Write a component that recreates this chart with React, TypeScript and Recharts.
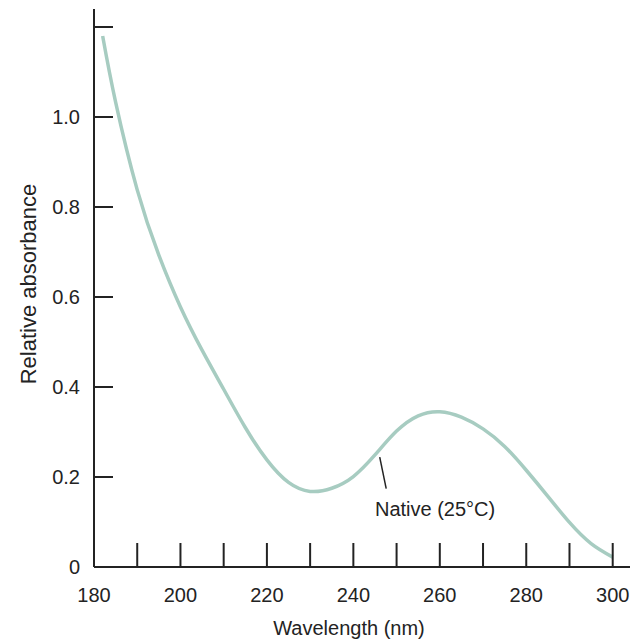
import { LineChart, Line, XAxis, YAxis, ReferenceLine, ReferenceDot } from 'recharts';

// wavelength (nm) and relative absorbance
const wavelengths = [182, 185, 190, 195, 200, 205, 210, 215, 220, 225, 230, 235, 240, 245, 250, 255, 260, 265, 270, 275, 280, 285, 290, 295, 300];
const absorbance = [1.18, 1.033, 0.838, 0.693, 0.578, 0.482, 0.395, 0.31, 0.238, 0.188, 0.168, 0.175, 0.201, 0.249, 0.302, 0.336, 0.345, 0.333, 0.307, 0.268, 0.215, 0.157, 0.099, 0.052, 0.022];

const xTicks = [180, 190, 200, 210, 220, 230, 240, 250, 260, 270, 280, 290, 300];
const yTicks = [0, 0.2, 0.4, 0.6, 0.8, 1.0, 1.2];
const yTickLabels = ['0', '0.2', '0.4', '0.6', '0.8', '1.0', ''];

// leader line from the curve to the note, in data units
const noteLine = [
  { x: 246.1, y: 0.244 },
  { x: 247.6, y: 0.174 },
];
const notePoint = { x: 245, y: 0.13 };
const noteText = 'Native (25°C)';

const data = wavelengths.map((nm, i) => ({ nm, abs: absorbance[i] }));

const INK = '#232323';
const CURVE = '#a7ccc1';
const FONT = '"Liberation Sans", Arial, sans-serif';
const Y_TICK_MARGIN = 14;
const X_TICK_MARGIN = 28;

function YTick({ x, y, index }: any) {
  const axisX = x + Y_TICK_MARGIN;
  return (
    <g>
      <line x1={axisX} y1={y} x2={axisX + 19} y2={y} stroke={INK} strokeWidth={2} />
      <text x={x} y={y} dy="0.35em" textAnchor="end" fontSize={20} fill={INK} fontFamily={FONT}>
        {yTickLabels[index]}
      </text>
    </g>
  );
}

function XTick({ x, y, payload, index }: any) {
  const axisY = y - X_TICK_MARGIN;
  const v = payload.value as number;
  return (
    <g>
      {index > 0 && <line x1={x} y1={axisY} x2={x} y2={axisY - 24} stroke={INK} strokeWidth={2} />}
      {v % 20 === 0 && (
        <text x={x} y={y} dy="0.35em" textAnchor="middle" fontSize={20} fill={INK} fontFamily={FONT}>
          {v}
        </text>
      )}
    </g>
  );
}

function XTitle({ viewBox }: any) {
  return (
    <text
      x={viewBox.x + viewBox.width / 2 - 13}
      y={viewBox.y + 68}
      textAnchor="middle"
      fontSize={20}
      fill={INK}
      fontFamily={FONT}
    >
      Wavelength (nm)
    </text>
  );
}

function YTitle({ viewBox }: any) {
  const cx = viewBox.x + 28;
  const cy = viewBox.y + viewBox.height / 2 - 4;
  return (
    <text
      transform={`translate(${cx},${cy}) rotate(-90)`}
      textAnchor="middle"
      dominantBaseline="central"
      fontSize={22}
      fill={INK}
      fontFamily={FONT}
    >
      Relative absorbance
    </text>
  );
}

function NoteLabel({ viewBox }: any) {
  return (
    <text x={viewBox.x} y={viewBox.y} dy="0.35em" fontSize={20} fill={INK} fontFamily={FONT}>
      {noteText}
    </text>
  );
}

export default function App() {
  return (
    <div style={{ position: 'absolute', left: 0, top: 0, width: 634, height: 640, background: '#fff' }}>
      <LineChart width={634} height={640} data={data} margin={{ top: 9, right: 4, left: 0, bottom: 0 }}>
        <XAxis
          dataKey="nm"
          type="number"
          domain={[180, 304]}
          ticks={xTicks}
          interval={0}
          allowDataOverflow
          height={73}
          tickSize={0}
          tickMargin={X_TICK_MARGIN}
          tickLine={false}
          axisLine={{ stroke: INK, strokeWidth: 2 }}
          tick={<XTick />}
          label={<XTitle />}
        />
        <YAxis
          type="number"
          domain={[0, 1.24]}
          ticks={yTicks}
          interval={0}
          allowDataOverflow
          width={94}
          tickSize={0}
          tickMargin={Y_TICK_MARGIN}
          tickLine={false}
          axisLine={{ stroke: INK, strokeWidth: 2 }}
          tick={<YTick />}
          label={<YTitle />}
        />
        <Line
          type="natural"
          dataKey="abs"
          stroke={CURVE}
          strokeWidth={3.5}
          dot={false}
          activeDot={false}
          isAnimationActive={false}
        />
        <ReferenceLine segment={noteLine} stroke={INK} strokeWidth={1.5} />
        <ReferenceDot x={notePoint.x} y={notePoint.y} r={0} fill="none" stroke="none" label={<NoteLabel />} />
      </LineChart>
    </div>
  );
}
